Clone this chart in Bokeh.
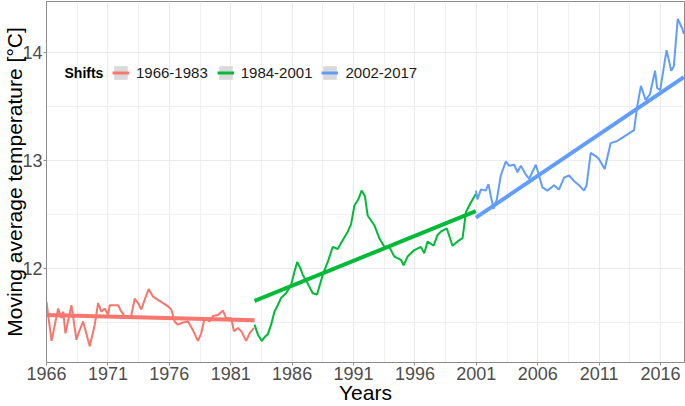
from bokeh.plotting import figure
from bokeh.models import Range1d, FixedTicker, Legend, LegendItem, Label
from bokeh.embed import file_html
from bokeh.resources import INLINE

# ---------------- data ----------------
red_years = [1966.00, 1966.41, 1966.95, 1967.22, 1967.36, 1967.54, 1968.03, 1968.44, 1968.57,
             1968.98, 1969.52, 1969.93, 1970.20, 1970.47, 1970.74, 1971.01, 1971.15, 1971.83,
             1972.10, 1972.37, 1972.64, 1972.91, 1973.18, 1973.45, 1973.72, 1973.99, 1974.32,
             1974.67, 1975.08, 1975.49, 1975.89, 1976.16, 1976.43, 1976.70, 1977.11, 1977.52,
             1977.92, 1978.33, 1978.60, 1978.87, 1979.28, 1979.55, 1979.96, 1980.37, 1980.63,
             1981.04, 1981.26, 1981.58, 1981.86, 1982.26, 1982.53, 1982.89]
red_temps = [11.69, 11.33, 11.63, 11.54, 11.60, 11.40, 11.66, 11.34, 11.39,
             11.51, 11.28, 11.48, 11.68, 11.60, 11.63, 11.57, 11.66, 11.66,
             11.60, 11.56, 11.54, 11.57, 11.72, 11.68, 11.62, 11.71, 11.81,
             11.74, 11.71, 11.68, 11.65, 11.62, 11.51, 11.48, 11.50, 11.51,
             11.43, 11.33, 11.40, 11.54, 11.51, 11.56, 11.57, 11.61, 11.54,
             11.54, 11.42, 11.45, 11.42, 11.33, 11.40, 11.45]

green_years = [1982.94, 1983.21, 1983.53, 1983.80, 1984.02, 1984.29, 1984.56, 1984.83, 1985.11,
               1985.51, 1985.92, 1986.19, 1986.41, 1986.68, 1986.87, 1987.27, 1987.68, 1988.03,
               1988.49, 1988.90, 1989.31, 1989.71, 1990.12, 1990.53, 1990.80, 1991.07, 1991.39,
               1991.66, 1991.93, 1992.15, 1992.69, 1993.10, 1993.51, 1993.91, 1994.32, 1994.86,
               1995.08, 1995.40, 1995.95, 1996.49, 1996.76, 1997.03, 1997.52, 1997.84, 1998.11,
               1998.60, 1999.06, 1999.47, 1999.88, 2000.15, 2000.55, 2000.96]
green_temps = [11.48, 11.39, 11.33, 11.37, 11.39, 11.48, 11.60, 11.66, 11.73,
               11.77, 11.85, 11.97, 12.06, 12.00, 11.94, 11.86, 11.77, 11.76,
               11.94, 12.06, 12.20, 12.18, 12.26, 12.34, 12.41, 12.58, 12.64,
               12.72, 12.67, 12.49, 12.40, 12.28, 12.20, 12.20, 12.11, 12.08,
               12.03, 12.11, 12.17, 12.20, 12.14, 12.25, 12.21, 12.31, 12.34,
               12.37, 12.21, 12.25, 12.28, 12.52, 12.61, 12.69]

blue_years = [2000.96, 2001.09, 2001.37, 2001.77, 2001.99, 2002.18, 2002.40, 2002.67, 2002.99,
              2003.40, 2003.67, 2004.08, 2004.35, 2004.62, 2005.02, 2005.30, 2005.84, 2006.03,
              2006.38, 2006.79, 2007.33, 2007.73, 2008.14, 2008.55, 2008.95, 2009.36, 2009.77,
              2009.98, 2010.31, 2010.72, 2010.99, 2011.45, 2011.94, 2012.48, 2013.02, 2013.43,
              2013.84, 2014.10, 2014.40, 2014.78, 2015.13, 2015.55, 2015.72, 2015.97, 2016.49,
              2016.87, 2017.08, 2017.40, 2017.76, 2017.90]
blue_temps = [12.72, 12.64, 12.73, 12.72, 12.78, 12.67, 12.55, 12.64, 12.86,
              12.99, 12.95, 12.96, 12.89, 12.95, 12.87, 12.83, 12.96, 12.89,
              12.75, 12.72, 12.77, 12.73, 12.84, 12.86, 12.81, 12.77, 12.72,
              12.77, 13.07, 13.04, 13.01, 12.92, 13.16, 13.18, 13.22, 13.25,
              13.28, 13.50, 13.69, 13.56, 13.61, 13.83, 13.67, 13.65, 14.02,
              13.83, 13.87, 14.31, 14.22, 14.17]

# linear trend end points per shift
red_fit_years, red_fit_temps = [1966.00, 1982.94], [11.57, 11.52]
green_fit_years, green_fit_temps = [1982.94, 2000.96], [11.70, 12.53]
blue_fit_years, blue_fit_temps = [2000.96, 2017.90], [12.47, 13.77]

shift_labels = ["1966-1983", "1984-2001", "2002-2017"]
shift_colors = ["#F8766D", "#00BA38", "#619CFF"]

x_ticks = [1966, 1971, 1976, 1981, 1986, 1991, 1996, 2001, 2006, 2011, 2016]
x_minor = [1968.5, 1973.5, 1978.5, 1983.5, 1988.5, 1993.5, 1998.5, 2003.5, 2008.5, 2013.5]
y_ticks = [12, 13, 14]
y_minor = [11.5, 12.5, 13.5]

FONT = "Liberation Sans"

p = figure(width=685, height=406, output_backend="svg", toolbar_location=None,
           x_range=Range1d(1966, 2017.95), y_range=Range1d(11.13, 14.47),
           min_border_left=0, min_border_right=1, min_border_top=1, min_border_bottom=0)

p.background_fill_color = "white"
p.outline_line_color = "#8C8C8C"
p.outline_line_width = 1

p.xaxis.ticker = FixedTicker(ticks=x_ticks, minor_ticks=x_minor)
p.yaxis.ticker = FixedTicker(ticks=y_ticks, minor_ticks=y_minor)
p.xaxis.axis_label = "Years"
p.yaxis.axis_label = "Moving average temperature [°C]"
for ax in (p.xaxis, p.yaxis):
    ax.axis_label_text_font = FONT
    ax.axis_label_text_font_size = "21px"
    ax.axis_label_text_font_style = "normal"
    ax.axis_label_text_color = "black"
    ax.major_label_text_font = FONT
    ax.major_label_text_font_size = "18px"
    ax.major_label_text_color = "#4D4D4D"
    ax.major_label_standoff = 0
    ax.axis_line_color = "#8C8C8C"
    ax.major_tick_line_color = "#8C8C8C"
    ax.major_tick_out = 3
    ax.major_tick_in = 0
    ax.minor_tick_line_color = None
p.yaxis.axis_label_standoff = -7
p.xaxis.axis_label_standoff = -2

for g in (p.xgrid, p.ygrid):
    g.grid_line_color = "#EBEBEB"
    g.grid_line_width = 1
    g.minor_grid_line_color = "#F0F0F0"
    g.minor_grid_line_width = 1

# series
p.line(red_years, red_temps, line_color=shift_colors[0], line_width=2)
p.line(green_years, green_temps, line_color=shift_colors[1], line_width=2)
p.line(blue_years, blue_temps, line_color=shift_colors[2], line_width=2)
# trends
p.line(red_fit_years, red_fit_temps, line_color=shift_colors[0], line_width=4)
p.line(green_fit_years, green_fit_temps, line_color=shift_colors[1], line_width=4)
p.line(blue_fit_years, blue_fit_temps, line_color=shift_colors[2], line_width=4)

# legend keys: hidden helper renderers (grey key box + coloured line)
key_bg = p.quad(left=x_ticks[:1], right=x_ticks[:1], top=y_ticks[:1], bottom=y_ticks[:1],
                fill_color="#D9D9D9", line_color=None, visible=False)
fits = [(red_fit_years, red_fit_temps), (green_fit_years, green_fit_temps),
        (blue_fit_years, blue_fit_temps)]
items = []
for lab, col, (fx, fy) in zip(shift_labels, shift_colors, fits):
    kr = p.line(fx, fy, line_color=col, line_width=3, visible=False)
    items.append(LegendItem(label=lab, renderers=[key_bg, kr]))

LEG_Y = 281
legend = Legend(items=items, orientation="horizontal", location=(66, LEG_Y),
                glyph_width=17, glyph_height=17, label_height=17, label_standoff=7,
                spacing=9, padding=0, margin=0, background_fill_alpha=0,
                border_line_alpha=0, label_text_font=FONT, label_text_font_size="15px",
                label_text_color="#1A1A1A", label_text_baseline="middle")
p.add_layout(legend)

p.add_layout(Label(x=18, y=LEG_Y + 8.5, x_units="screen", y_units="screen", text="Shifts",
                   text_font=FONT, text_font_size="14px", text_font_style="bold",
                   text_baseline="middle", text_color="black"))

open("out.html", "w").write(file_html(p, INLINE))
